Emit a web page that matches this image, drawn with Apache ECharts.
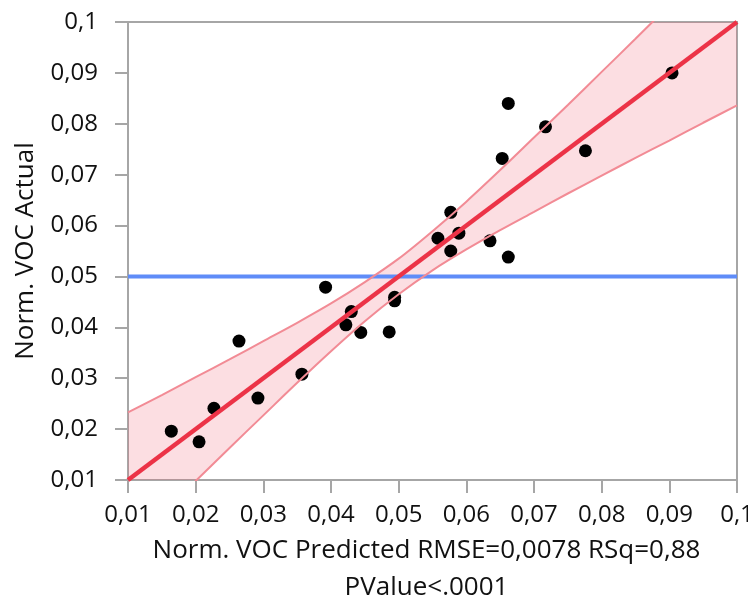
<!DOCTYPE html>
<html>
<head>
<meta charset="utf-8">
<script src="https://cdn.jsdelivr.net/npm/echarts@6/dist/echarts.min.js"></script>
<style>
  html, body { margin: 0; padding: 0; background: #fff; }
  #main { width: 748px; height: 595px; }
</style>
</head>
<body>
<div id="main"></div>
<script>
// points: predicted (x) vs actual (y)
const predicted = [0.0164, 0.0205, 0.0227, 0.0264, 0.0292, 0.0357, 0.0392, 0.0422, 0.0430, 0.0444, 0.0486, 0.0494,
                   0.0494, 0.0558, 0.0577, 0.0577, 0.0589, 0.0635, 0.0653, 0.0662, 0.0662, 0.0717, 0.0776, 0.0904];
const actual    = [0.0196, 0.0175, 0.0241, 0.0373, 0.0261, 0.0308, 0.0479, 0.0405, 0.0431, 0.0390, 0.0391, 0.0459,
                   0.0452, 0.0575, 0.0626, 0.0550, 0.0585, 0.0570, 0.0732, 0.0840, 0.0538, 0.0794, 0.0747, 0.0900];

// fit line and mean line
const fitX = [0.01, 0.1];
const fitY = [0.01, 0.1];
const meanActual = 0.05;

// confidence curves
const bandX     = [0.010, 0.015, 0.020, 0.025, 0.030, 0.035, 0.040, 0.045, 0.050, 0.055,
                   0.060, 0.065, 0.070, 0.075, 0.080, 0.085, 0.090, 0.095, 0.100];
const bandUpper = [0.0233, 0.0267, 0.0302, 0.0337, 0.0373, 0.0409, 0.0447, 0.0489, 0.0535, 0.0589,
                   0.0647, 0.0709, 0.0773, 0.0837, 0.0902, 0.0967, 0.1033, 0.1098, 0.1164];
const bandLower = [-0.0033, 0.0033, 0.0098, 0.0163, 0.0227, 0.0291, 0.0353, 0.0412, 0.0465, 0.0512,
                   0.0553, 0.0591, 0.0627, 0.0663, 0.0698, 0.0733, 0.0767, 0.0802, 0.0836];

const tickLabels = ['0,01', '0,02', '0,03', '0,04', '0,05', '0,06', '0,07', '0,08', '0,09', '0,1'];

const xTitle = 'Norm. VOC Predicted RMSE=0,0078 RSq=0,88\nPValue<.0001';
const yTitle = 'Norm. VOC Actual';

const font = '"Open Sans", "Noto Sans", sans-serif';
const grey = '#a6a6a6';

function tickFmt(v) {
  return tickLabels[Math.round(v * 100) - 1] || '';
}

const axisCommon = {
  type: 'value',
  min: 0.01,
  max: 0.1,
  interval: 0.01,
  splitLine: { show: false },
  axisLine: { show: true, lineStyle: { color: grey, width: 2 } },
  axisTick: { show: true, inside: false, length: 13, lineStyle: { color: grey, width: 2 } },
  nameLocation: 'middle'
};

const chart = echarts.init(document.getElementById('main'));
chart.setOption({
  animation: false,
  backgroundColor: '#fff',
  grid: {
    left: 128, right: 11, top: 22, bottom: 115,
    containLabel: false,
    outerBoundsMode: 'none',
    show: true, borderColor: grey, borderWidth: 2, backgroundColor: '#fff'
  },
  xAxis: Object.assign({}, axisCommon, {
    name: xTitle,
    nameGap: 45,
    nameTextStyle: { fontFamily: font, fontSize: 26, color: '#111', lineHeight: 37, padding: [0, 12, 0, 0] },
    axisLabel: { formatter: tickFmt, margin: 23, fontFamily: font, fontSize: 24, color: '#111' }
  }),
  yAxis: Object.assign({}, axisCommon, {
    name: yTitle,
    nameGap: 89,
    nameTextStyle: { fontFamily: font, fontSize: 26, color: '#111' },
    axisLabel: { formatter: tickFmt, margin: 30, fontFamily: font, fontSize: 24, color: '#111' }
  }),
  series: [
    {
      type: 'line',
      data: fitX.map(x => [x, meanActual]),
      symbol: 'none',
      lineStyle: { color: '#5f8cf8', width: 4 },
      silent: true
    },
    {
      type: 'custom',
      clip: true,
      silent: true,
      data: [[0.05, 0.05]],
      renderItem: function (params, api) {
        const pts = [];
        bandX.forEach((x, i) => pts.push(api.coord([x, bandUpper[i]])));
        for (let i = bandX.length - 1; i >= 0; i--) pts.push(api.coord([bandX[i], bandLower[i]]));
        return { type: 'polygon', shape: { points: pts }, style: { fill: 'rgba(240,90,110,0.2)' } };
      }
    },
    {
      type: 'line',
      data: bandX.map((x, i) => [x, bandUpper[i]]),
      symbol: 'none',
      smooth: 0.3,
      lineStyle: { color: '#f28b95', width: 2 },
      silent: true
    },
    {
      type: 'line',
      data: bandX.map((x, i) => [x, bandLower[i]]),
      symbol: 'none',
      smooth: 0.3,
      lineStyle: { color: '#f28b95', width: 2 },
      silent: true
    },
    {
      type: 'line',
      data: fitX.map((x, i) => [x, fitY[i]]),
      symbol: 'none',
      lineStyle: { color: '#ec3347', width: 4.5 },
      silent: true
    },
    {
      type: 'scatter',
      data: predicted.map((x, i) => [x, actual[i]]),
      symbol: 'circle',
      symbolSize: 13,
      itemStyle: { color: '#000', opacity: 1 },
      silent: true
    }
  ]
});
</script>
</body>
</html>
